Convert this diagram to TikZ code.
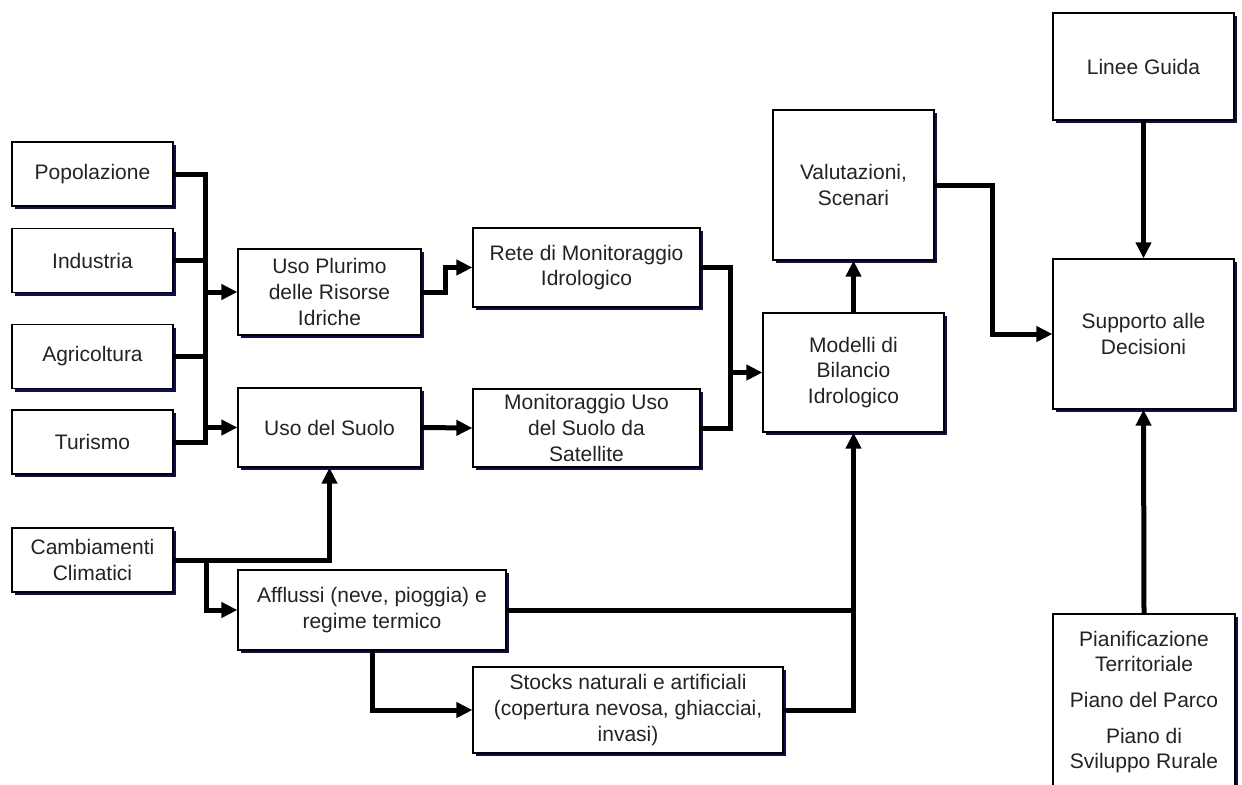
\documentclass[tikz,border=0pt]{standalone}
\usepackage{fontspec}
\setmainfont{Liberation Sans}
\usetikzlibrary{arrows.meta,shadows}
\definecolor{box_shadow}{RGB}{15,15,75}
\definecolor{box_text}{RGB}{35,35,35}

\begin{document}
\begin{tikzpicture}[x=0.5pt,y=-0.5pt,>={Triangle[length=8pt,width=7.5pt]}]
    \tikzstyle{block}=[draw=black, line width=0.6pt, fill=white, inner sep=2pt, align=center, text=box_text,
                       font=\fontsize{10.5}{12.8}\selectfont,
                       drop shadow={shadow xshift=1.5pt,shadow yshift=-1.5pt,fill=box_shadow,opacity=1}]
    \tikzstyle{source}=[block, minimum width=80.5pt, minimum height=32pt]
    \tikzstyle{wire}=[line width=2.5pt, black]
    \tikzstyle{flow}=[wire, ->]

    \path[use as bounding box, clip] (0,0) rectangle (1242,784);

    % sorgenti a sinistra
    \node[source] (pop) at (92.5,174)   {Popolazione};
    \node[source] (ind) at (92.5,260.5) {Industria};
    \node[source] (agr) at (92.5,356.5) {Agricoltura};
    \node[source] (tur) at (92.5,442)   {Turismo};
    \node[source] (cam) at (92.5,560)   {Cambiamenti\\Climatici};

    \node[block, minimum width=91.5pt, minimum height=43pt]   (upl)  at (329.5,292)   {Uso Plurimo\\delle Risorse\\Idriche};
    \node[block, minimum width=91.5pt, minimum height=39.5pt] (usu)  at (329.5,427.5) {Uso del Suolo};
    \node[block, minimum width=134pt,  minimum height=40pt]   (aff)  at (372,610)     {Afflussi (neve, pioggia) e\\regime termico};
    \node[block, minimum width=113.5pt, minimum height=39.5pt] (rete) at (586.5,267.5) {Rete di Monitoraggio\\Idrologico};
    \node[block, minimum width=113.5pt, minimum height=39pt]  (msat) at (586.5,428)   {Monitoraggio Uso\\del Suolo da\\Satellite};
    \node[block, minimum width=155pt,  minimum height=43pt]   (sto)  at (628,710)     {Stocks naturali e artificiali\\(copertura nevosa, ghiacciai,\\invasi)};
    \node[block, minimum width=90.5pt, minimum height=59.5pt] (mod)  at (853.5,372.5) {Modelli di\\Bilancio\\Idrologico};
    \node[block, minimum width=80.5pt, minimum height=75pt]   (val)  at (853.5,185)   {Valutazioni,\\Scenari};
    \node[block, minimum width=90.5pt, minimum height=53.5pt] (lin)  at (1143.5,66.5) {Linee Guida};
    \node[block, minimum width=90.5pt, minimum height=75pt]   (sup)  at (1143.5,334)  {Supporto alle\\Decisioni};
    \node[block, minimum width=91pt,   minimum height=88pt]   (pia)  at (1144,702)    {Pianificazione\\Territoriale\\[5pt]Piano del Parco\\[5pt]Piano di\\Sviluppo Rurale};

    \coordinate (bt) at (205,174);
    \coordinate (bb) at (205,442);
    \coordinate (cj) at (206,560);
    \coordinate (mj) at (730,372.5);

    % collettore delle pressioni
    \draw[wire] (pop.east) -- (bt) -- (bb) -- (tur.east);
    \draw[wire] (ind.east) -- (ind.east -| bt);
    \draw[wire] (agr.east) -- (agr.east -| bt);
    \draw[flow] (bt |- upl.west) -- (upl.west);
    \draw[flow] (bt |- usu.west) -- (usu.west);

    \draw[flow] (upl.east) -- ++(24,0) |- (rete.west);
    \draw[flow] (usu.east) -- (msat.west);
    \draw[wire] (rete.east) -| (mj |- msat.east) -- (msat.east);
    \draw[flow] (mj) -- (mod.west);

    % clima
    \draw[flow] (cam.east) -| (usu.south);
    \draw[flow] (cj) |- (aff.west);
    \draw[flow] (aff.south) |- (sto.west);
    \draw[wire] (aff.east) -- (aff.east -| mod.south);
    \draw[flow] (sto.east) -| (mod.south);

    \draw[flow] (mod.north) -- (val.south);
    \draw[flow] (val.east) -- ++(58,0) |- (sup.west);
    \draw[flow] (lin.south) -- (sup.north);
    \draw[flow] (pia.north) -- (sup.south);
\end{tikzpicture}
\end{document}
